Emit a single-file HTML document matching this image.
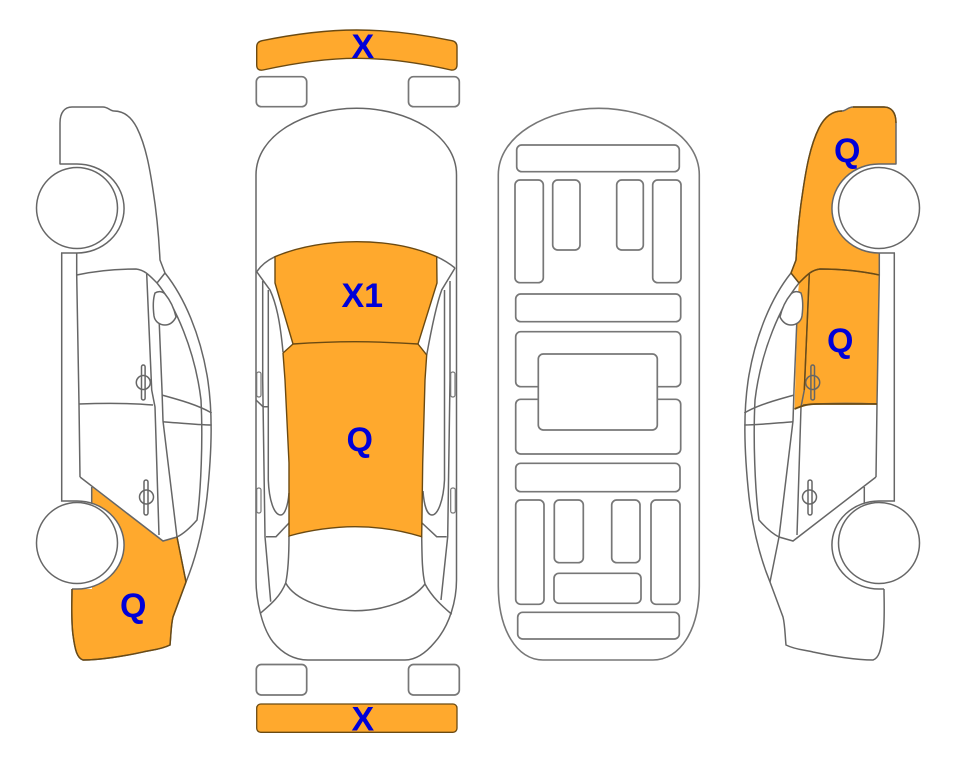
<!DOCTYPE html>
<html>
<head>
<meta charset="utf-8">
<style>
html,body{margin:0;padding:0;background:#fff}
svg{display:block}
text{font-family:"Liberation Sans",Arial,sans-serif;font-weight:bold;font-size:34px;fill:#0000d8}
.l{fill:none;stroke:#666;stroke-width:1.5}
.w{fill:#fff;stroke:#666;stroke-width:1.5}
.r{fill:#fff;stroke:#777;stroke-width:1.7}
.o{fill:#ffa92d;stroke:none}
.d{fill:none;stroke:#6b4a12;stroke-width:1.4}
</style>
</head>
<body>
<svg width="963" height="768" viewBox="0 0 963 768" xmlns="http://www.w3.org/2000/svg">
<defs>
<g id="side">
  <!-- rail and arches -->
  <path class="l" d="M61.7,253V502M76.7,253L76.7,275L79,404L80,477"/>
  <path d="M60,164H77A46,43.5 0 0 1 77,253H60Z" fill="#fff"/>
  <path class="l" d="M59.5,164H77A46,43.5 0 0 1 77,253H61"/>
  <path d="M61,501H77A46,43 0 0 1 77,589H72V540H61Z" fill="#fff"/>
  <path class="l" d="M61,501H77A46,43 0 0 1 77,589H72"/>
  <circle class="w" cx="77" cy="208" r="40.5"/>
  <circle class="w" cx="77" cy="543" r="40.5"/>
  <!-- outline -->
  <path class="l" d="M60,164L60,123C60,112 65,107 72,107L103,107C108,107 110,111 114,111C125,111 132,118 137,128C146,146 150,170 153,190C157,215 159,240 160,260L165,273C185,298 200,335 207,375C213,410 212,450 207,497C203,530 195,560 186,582L173,617C171,625 171,635 170,645C160,650 150,650 143,652C125,656 100,660 83,660C77,658 75,650 73,635C71,620 72,600 72,589"/>
  <!-- door and window -->
  <path class="l" d="M76.7,275C95,271 115,269 136,269C145,270 150,276 157,283C175,305 195,350 201,400C203,440 201,490 197,520C190,528 183,534 177,537L163,541L80,477"/>
  <path class="l" d="M165,273L157,283M146.7,274L151.7,390L155,407L159,535M158,293L162,390L163,421L177,537L186,582"/>
  <path class="l" d="M78.7,404C105,403 130,403 153,405"/>
  <path class="l" d="M161.7,395C180,400 198,405 211.7,413M162.7,421.7C180,423 198,425 211.7,425"/>
  <path class="l" d="M91.7,487V503"/>
  <path class="w" d="M155,293C158,291 162,291 165,294C170,300 174,308 176,317C173,323 169,325 165,325C160,325 155,322 154,316C153,308 153,299 155,293Z"/>
  <!-- handles -->
  <ellipse class="l" cx="143.3" cy="382.5" rx="7" ry="7"/>
  <rect class="l" x="141.5" y="365" width="3.6" height="35" rx="1.8"/>
  <ellipse class="l" cx="146.5" cy="497" rx="7" ry="7"/>
  <rect class="l" x="144" y="480" width="4" height="35" rx="2"/>
</g>
</defs>

<!-- LEFT CAR -->
<path class="o" d="M91.7,487L163,541L177,537L186,582L173,617C171,625 171,635 170,645C160,650 150,650 143,652C125,656 100,660 83,660C77,658 75,650 73,635C71,620 72,600 72,589H92V487Z"/>
<use href="#side"/>
<path class="d" d="M177,537L186,582L173,617C171,625 171,635 170,645C160,650 150,650 143,652C125,656 100,660 83,660C77,658 75,650 73,635C71,620 72,600 72,589"/>
<text x="120" y="617">Q</text>

<!-- RIGHT CAR -->
<g transform="translate(956,0) scale(-1,1)">
  <path class="o" d="M60,164L60,123C60,112 65,107 72,107L103,107C108,107 110,111 114,111C125,111 132,118 137,128C146,146 150,170 153,190C157,215 159,240 160,260L165,273L157,283L158,293L161.5,409C152,405 147,404 140,404L79,404L76.7,253L76,164Z"/>
  <use href="#side"/>
  <path class="d" d="M114,111C125,111 132,118 137,128C146,146 150,170 153,190C157,215 159,240 160,260L165,273L157,283"/>
  <path class="d" d="M103,107L72,107C65,107 60,112 60,123"/>
  <path class="d" d="M76.7,275C95,271 115,269 136,269C145,270 150,276 157,283M146.7,274L151.7,390"/>
  <path class="d" style="stroke-width:1.8" d="M79,404L140,404C147,404 152,405 161.5,409"/>
</g>
<text x="834" y="162">Q</text>
<text x="827" y="352">Q</text>

<!-- TOP CAR -->
<path class="o" d="M275,256.7C300,246 330,241.7 356.7,241.7C385,241.7 412,246 436.7,256.7L437,283L418,344C395,342.5 375,341.7 355,341.7C335,341.7 315,342.5 293,344L275,283Z"/>
<path class="o" d="M293,344L283,353L285,380L289,463L289,536C310,530 335,526.7 355,526.7C378,526.7 400,530 421.7,536.7L422.7,463L425,380L426.7,355L418,344C395,342.5 375,341.7 355,341.7C335,341.7 315,342.5 293,344Z"/>
<g>
  <path class="l" d="M256,580V175C256,135 305,108.3 356.5,108.3C408,108.3 456.5,135 456.5,175V580C456.5,600 450,625 435,642C425,654 415,660 405,660H308C295,660 283,654 273,642C262,628 256,600 256,580Z"/>
  <path class="l" d="M256.7,271.7C262,264 268,260 275,256.7M436.7,256.7C444,260 450,264 455,268"/>
  <path class="l" d="M256.7,271.7L270,290C276,303 280,320 283,352M455,268L441.7,290C437,303 433,320 426.7,355"/>
  <path class="l" d="M262.7,281V380L265,536.7L270.7,601.7M450,281V380L447.7,536.7L441,600"/>
  <path class="l" d="M268.3,290V480C269,500 274,515 280.7,515C285,515 288,505 289,493M444.5,290V480C443.5,500 438,515 432,515C427,515 424,505 423,491"/>
  <path class="l" d="M266,536.7H276L289,523M446.7,536.7H436.7L422,523"/>
  <path class="l" d="M256,400L263,406.7H268"/>
  <path class="l" d="M289,536C289,555 288,572 285.7,583C295,600 325,610.7 355,610.7C385,610.7 413,600 425,584C422,572 422,555 421.7,536.7"/>
  <path class="l" d="M285.7,583C280,597 270,605 260.7,613M425,584C432,597 442,606 451.7,614.3"/>
</g>
<rect class="r" x="256.7" y="372" width="4.3" height="25" rx="2" style="fill:none;stroke-width:1.2"/>
<rect class="r" x="256.7" y="488" width="4.3" height="25" rx="2" style="fill:none;stroke-width:1.2"/>
<rect class="r" x="450.7" y="372" width="4.3" height="25" rx="2" style="fill:none;stroke-width:1.2"/>
<rect class="r" x="450.7" y="488" width="4.6" height="25" rx="2" style="fill:none;stroke-width:1.2"/>
<path class="d" d="M275,256.7C300,246 330,241.7 356.7,241.7C385,241.7 412,246 436.7,256.7L437,283L418,344C395,342.5 375,341.7 355,341.7C335,341.7 315,342.5 293,344L275,283Z"/>
<path class="d" d="M293,344L283,353L285,380L289,463L289,536C310,530 335,526.7 355,526.7C378,526.7 400,530 421.7,536.7L422.7,463L425,380L426.7,355L418,344"/>

<!-- bumpers and mirrors -->
<path class="o" d="M256.7,47C256.7,43 259,41.3 262,40.7C295,34 325,30 356.7,30C390,30 420,34 452,40.7C455,41.3 457,43 457,47V65C457,69 454,70.5 451,70C420,63 390,58.3 356.7,58.3C325,58.3 295,63 263,70C259,70.8 256.7,69 256.7,65Z"/>
<path class="d" d="M256.7,47C256.7,43 259,41.3 262,40.7C295,34 325,30 356.7,30C390,30 420,34 452,40.7C455,41.3 457,43 457,47V65C457,69 454,70.5 451,70C420,63 390,58.3 356.7,58.3C325,58.3 295,63 263,70C259,70.8 256.7,69 256.7,65Z"/>
<rect class="r" x="256.3" y="76.7" width="50.4" height="30" rx="5"/>
<rect class="r" x="408.5" y="76.7" width="50.8" height="30" rx="5"/>
<rect class="r" x="256.3" y="664.5" width="50.4" height="30.5" rx="5"/>
<rect class="r" x="408.5" y="664.5" width="50.8" height="30.5" rx="5"/>
<rect class="o" x="256.7" y="704" width="200.3" height="28.3" rx="4" style="stroke:#6b4a12;stroke-width:1.3"/>
<text x="351.5" y="58">X</text>
<text x="341.5" y="307">X1</text>
<text x="346.5" y="451">Q</text>
<text x="351.5" y="730.5">X</text>

<!-- UNDERSIDE -->
<path class="l" style="stroke:#777;stroke-width:1.6" d="M498.3,175C498.3,135 548,108.3 598.7,108.3C650,108.3 699.3,135 699.3,175V586C699.3,630 680,660 653,660H543C517,660 498.3,630 498.3,586Z"/>
<rect class="r" x="516.7" y="145" width="162.6" height="26.7" rx="5"/>
<rect class="r" x="515" y="180" width="28.3" height="102.7" rx="5"/>
<rect class="r" x="552.7" y="180" width="27.3" height="70" rx="5"/>
<rect class="r" x="616.7" y="180" width="26.6" height="70" rx="5"/>
<rect class="r" x="652.7" y="180" width="28.3" height="102.7" rx="5"/>
<rect class="r" x="515.7" y="294" width="165" height="27.7" rx="5"/>
<rect class="r" x="515.7" y="331.7" width="165" height="55" rx="5"/>
<rect class="r" x="515.7" y="399.3" width="165" height="54.7" rx="5"/>
<rect class="r" x="538.3" y="354" width="119" height="76" rx="5"/>
<rect class="r" x="515.7" y="463.3" width="164.3" height="28.4" rx="5"/>
<rect class="r" x="515.7" y="500" width="28.3" height="104.3" rx="5"/>
<rect class="r" x="554.3" y="500" width="29" height="62.7" rx="5"/>
<rect class="r" x="611.7" y="500" width="28.3" height="62.7" rx="5"/>
<rect class="r" x="651" y="500" width="29" height="104.3" rx="5"/>
<rect class="r" x="554" y="573.3" width="87" height="30" rx="5"/>
<rect class="r" x="517.7" y="612.3" width="161.6" height="26.7" rx="5"/>
</svg>
</body>
</html>
